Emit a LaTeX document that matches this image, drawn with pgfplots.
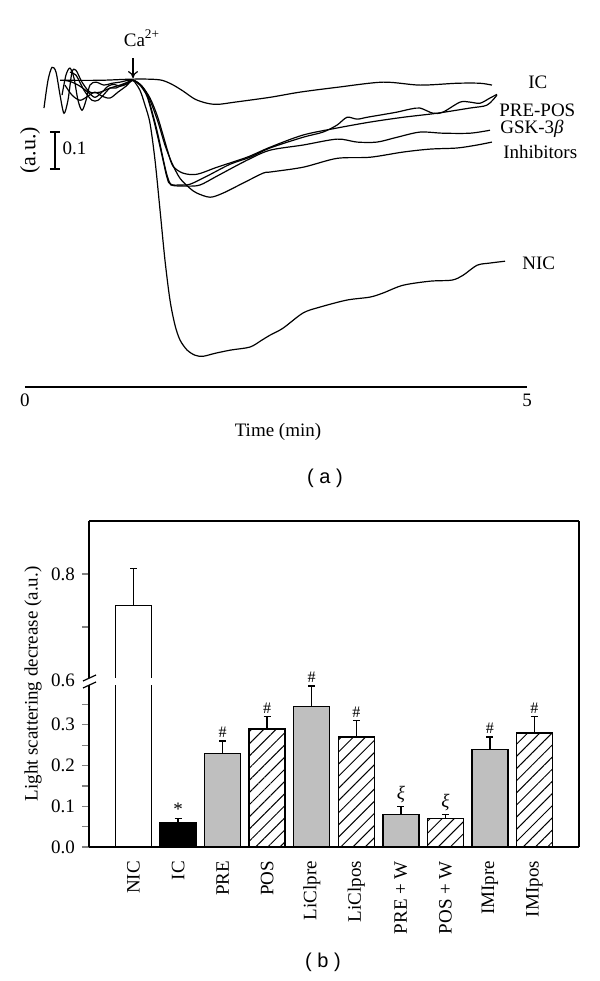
\documentclass[border=0pt]{standalone}
\usepackage{pgfplots}
\pgfplotsset{compat=1.18}
\usepackage{fontspec}
\setmainfont{Liberation Serif}
\newfontfamily\arialfont{Liberation Sans}
\usetikzlibrary{arrows.meta,patterns.meta}
\begin{document}
\begin{tikzpicture}[font=\fontsize{9.5}{11}\selectfont]
\useasboundingbox (0,0) rectangle (300pt,490.5pt);
% ---------------- panel (a) ----------------
\begin{axis}[at={(12.5pt,297pt)}, anchor=south west, scale only axis,
  width=251pt, height=172.4pt, xmin=0, xmax=5, ymin=-0.832, ymax=0.1,
  axis x line*=bottom, axis y line=none, axis line style={-, line width=0.6pt},
  xtick={0,5}, xticklabels={0,5}, major tick length=0pt,
  tick label style={font=\fontsize{9.5}{11}\selectfont},
  clip=false, no marks]
% IC
\addplot[black, line width=0.6pt, smooth, tension=0.5] coordinates {
(0.349,-0.003)(0.747,-0.003)(1.046,0)(1.245,0)(1.365,-0.003)(1.464,-0.014)(1.574,-0.032)(1.693,-0.054)(1.813,-0.065)(1.922,-0.068)(2.092,-0.062)(2.440,-0.049)(2.739,-0.035)(3.108,-0.022)(3.566,-0.008)(3.934,-0.016)(4.303,-0.011)(4.532,-0.011)(4.651,-0.016)};
% NIC
\addplot[black, line width=0.6pt, smooth, tension=0.5] coordinates {
(0.189,-0.078)(0.229,-0.003)(0.269,0.032)(0.309,0.019)(0.349,-0.043)(0.388,-0.092)(0.428,-0.057)(0.468,0.019)(0.508,0.024)(0.568,-0.008)(0.647,-0.035)(0.747,-0.035)(0.847,-0.024)(0.946,-0.016)(1.026,-0.008)(1.076,-0.003)
(1.145,-0.030)(1.195,-0.070)(1.245,-0.119)(1.295,-0.219)(1.345,-0.354)(1.394,-0.489)(1.444,-0.597)(1.494,-0.665)(1.544,-0.705)(1.614,-0.732)(1.693,-0.746)(1.773,-0.749)(1.892,-0.741)(2.052,-0.732)(2.241,-0.724)(2.361,-0.705)(2.440,-0.692)(2.570,-0.673)(2.769,-0.632)(2.938,-0.616)(3.207,-0.597)(3.436,-0.589)(3.566,-0.578)(3.765,-0.557)(4.034,-0.546)(4.253,-0.543)(4.363,-0.530)(4.502,-0.503)(4.631,-0.497)(4.781,-0.492)};
% PRE
\addplot[black, line width=0.6pt, smooth, tension=0.5] coordinates {
(0.369,-0.043)(0.408,0.011)(0.448,0.030)(0.488,0.003)(0.528,-0.057)(0.568,-0.084)(0.608,-0.057)(0.647,-0.016)(0.707,-0.008)(0.787,-0.016)(0.867,-0.011)(0.946,-0.008)(1.026,-0.003)(1.076,-0.003)
(1.145,-0.014)(1.215,-0.043)(1.275,-0.097)(1.325,-0.151)(1.375,-0.214)(1.414,-0.259)(1.454,-0.284)(1.544,-0.286)(1.643,-0.284)(1.813,-0.262)(2.042,-0.230)(2.241,-0.211)(2.440,-0.186)(2.769,-0.157)(2.968,-0.143)(3.108,-0.124)(3.207,-0.103)(3.307,-0.108)(3.406,-0.103)(3.536,-0.097)(3.705,-0.089)(3.835,-0.081)(3.934,-0.078)(4.064,-0.092)(4.163,-0.089)(4.333,-0.062)(4.432,-0.062)(4.532,-0.065)(4.631,-0.051)(4.701,-0.041)};
% POS
\addplot[black, line width=0.6pt, smooth, tension=0.5] coordinates {
(0.448,0.019)(0.508,0.011)(0.588,-0.030)(0.667,-0.057)(0.727,-0.057)(0.787,-0.041)(0.847,-0.024)(0.906,-0.024)(0.966,-0.016)(1.026,-0.008)(1.076,-0.003)
(1.165,-0.019)(1.245,-0.051)(1.315,-0.097)(1.375,-0.151)(1.424,-0.197)(1.474,-0.235)(1.574,-0.254)(1.713,-0.257)(1.912,-0.238)(2.211,-0.211)(2.440,-0.184)(2.769,-0.151)(3.108,-0.132)(3.436,-0.116)(3.765,-0.103)(4.104,-0.092)(4.432,-0.078)(4.602,-0.070)(4.701,-0.043)};
% GSK-3beta
\addplot[black, line width=0.6pt, smooth, tension=0.5] coordinates {
(0.398,-0.003)(0.468,-0.008)(0.548,-0.019)(0.627,-0.035)(0.697,-0.049)(0.767,-0.035)(0.827,-0.019)(0.886,-0.014)(0.946,-0.019)(1.006,-0.014)(1.076,-0.003)
(1.145,-0.016)(1.215,-0.046)(1.275,-0.103)(1.325,-0.159)(1.375,-0.219)(1.414,-0.265)(1.454,-0.286)(1.614,-0.289)(1.743,-0.286)(1.912,-0.262)(2.211,-0.219)(2.440,-0.192)(2.769,-0.178)(3.108,-0.162)(3.307,-0.170)(3.506,-0.170)(3.705,-0.157)(3.934,-0.143)(4.163,-0.146)(4.432,-0.146)(4.631,-0.138)};
% Inhibitors
\addplot[black, line width=0.6pt, smooth, tension=0.5] coordinates {
(0.398,-0.016)(0.468,-0.043)(0.548,-0.057)(0.627,-0.046)(0.697,-0.035)(0.767,-0.046)(0.847,-0.051)(0.926,-0.035)(1.006,-0.019)(1.076,-0.003)
(1.165,-0.019)(1.245,-0.057)(1.325,-0.116)(1.394,-0.178)(1.464,-0.227)(1.544,-0.268)(1.643,-0.295)(1.713,-0.308)(1.843,-0.319)(1.972,-0.308)(2.171,-0.281)(2.371,-0.254)(2.440,-0.251)(2.769,-0.238)(3.108,-0.214)(3.436,-0.211)(3.765,-0.197)(4.034,-0.189)(4.303,-0.186)(4.502,-0.178)(4.651,-0.170)};
% annotations
\draw[line width=0.6pt, -{To[length=3.5pt,width=5pt]}] (axis cs:1.076,0.057) -- (axis cs:1.076,0.003);
\node at (axis cs:1.165,0.110) {Ca\textsuperscript{2+}};
\draw[line width=0.6pt] (axis cs:0.249,-0.143) -- (axis cs:0.349,-0.143)
  (axis cs:0.299,-0.143) -- (axis cs:0.299,-0.243)
  (axis cs:0.249,-0.243) -- (axis cs:0.349,-0.243);
\node[anchor=west, inner sep=0pt] at (axis cs:0.37,-0.188) {0.1};
\node[rotate=90] at (axis cs:0.05,-0.192) {\fontsize{11}{12}\selectfont (a.u.)};
\node[anchor=west, inner sep=0pt] at (axis cs:5.01,-0.008) {IC};
\node[anchor=west, inner sep=0pt] at (axis cs:4.72,-0.084) {PRE-POS};
\node[anchor=west, inner sep=0pt] at (axis cs:4.73,-0.135) {GSK-3\textit{β}};
\node[anchor=west, inner sep=0pt] at (axis cs:4.76,-0.197) {Inhibitors};
\node[anchor=west, inner sep=0pt] at (axis cs:4.95,-0.497) {NIC};
\end{axis}
\node at (139pt,274.5pt) {Time (min)};
\node at (162.5pt,251.5pt) {\arialfont\fontsize{10}{12}\selectfont ( a )};
% ---------------- panel (b) lower ----------------
\begin{axis}[at={(44.5pt,67pt)}, anchor=south west, scale only axis,
  width=245pt, height=83.5pt, xmin=-1, xmax=10, ymin=0, ymax=0.41,
  axis x line*=bottom, axis y line*=left, axis line style={-, line width=0.7pt},
  xtick={0,...,9},
  xticklabels={NIC,IC,PRE,POS,LiClpre,LiClpos,PRE + W,POS + W,IMIpre,IMIpos},
  xticklabel style={rotate=90, anchor=east},
  x tick style={draw=none},
  ytick={0,0.1,0.2,0.3}, yticklabels={0.0,0.1,0.2,0.3},
  minor ytick={0.05,0.15,0.25,0.35},
  tick align=outside, major tick length=3.5pt, minor tick length=3.5pt,
  y tick style={line width=0.6pt},
  tick label style={font=\fontsize{9.5}{11}\selectfont},
  ybar, bar width=18pt, bar shift=0pt, clip mode=individual,
  error bars/y dir=plus, error bars/y explicit,
  error bars/error bar style={line width=0.7pt, black},
  error bars/error mark options={rotate=90, mark size=1.75pt, line width=0.7pt, black}]
\addplot[fill=white, draw=black, line width=0.7pt] coordinates {(0,0.74)};
\addplot[fill=black, draw=black, line width=0.7pt] coordinates {(1,0.06) +- (0,0.01)};
\addplot[fill=black!25, draw=black, line width=0.7pt] coordinates {
(2,0.23) +- (0,0.03) (4,0.345) +- (0,0.05) (6,0.08) +- (0,0.02) (8,0.24) +- (0,0.03)};
\addplot[pattern={Lines[angle=45,distance=4.3pt,line width=0.5pt]}, pattern color=black, draw=black, line width=0.7pt] coordinates {
(3,0.29) +- (0,0.03) (5,0.27) +- (0,0.04) (7,0.07) +- (0,0.01) (9,0.28) +- (0,0.04)};
\node[anchor=south, inner sep=1.5pt] at (axis cs:1,0.07) {*};
\node[anchor=south, inner sep=1.5pt, font=\fontsize{8}{9}\selectfont] at (axis cs:2,0.26) {\#};
\node[anchor=south, inner sep=1.5pt, font=\fontsize{8}{9}\selectfont] at (axis cs:3,0.32) {\#};
\node[anchor=south, inner sep=1.5pt, font=\fontsize{8}{9}\selectfont] at (axis cs:4,0.395) {\#};
\node[anchor=south, inner sep=1.5pt, font=\fontsize{8}{9}\selectfont] at (axis cs:5,0.31) {\#};
\node[anchor=south, inner sep=1.5pt] at (axis cs:6,0.10) {\textit{ξ}};
\node[anchor=south, inner sep=1.5pt] at (axis cs:7,0.08) {\textit{ξ}};
\node[anchor=south, inner sep=1.5pt, font=\fontsize{8}{9}\selectfont] at (axis cs:8,0.27) {\#};
\node[anchor=south, inner sep=1.5pt, font=\fontsize{8}{9}\selectfont] at (axis cs:9,0.32) {\#};
\end{axis}
% ---------------- panel (b) upper ----------------
\begin{axis}[at={(44.5pt,150.5pt)}, anchor=south west, scale only axis,
  width=245pt, height=79.5pt, xmin=-1, xmax=10, ymin=0.6, ymax=0.9,
  axis x line*=top, axis y line*=left, axis line style={-, line width=0.7pt},
  xtick=\empty,
  ytick={0.6,0.8}, yticklabels={0.6,0.8}, minor ytick={0.7},
  tick align=outside, major tick length=3.5pt, minor tick length=3.5pt,
  y tick style={line width=0.6pt},
  tick label style={font=\fontsize{9.5}{11}\selectfont},
  ybar, bar width=18pt, bar shift=0pt, clip mode=individual,
  error bars/y dir=plus, error bars/y explicit,
  error bars/error bar style={line width=0.7pt, black},
  error bars/error mark options={rotate=90, mark size=1.75pt, line width=0.7pt, black}]
\addplot[fill=white, draw=black, line width=0.7pt] coordinates {(0,0.74) +- (0,0.07)};
\end{axis}
% right frame line
\draw[line width=0.7pt] (289.5pt,67pt) -- (289.5pt,230pt);
% axis break
\fill[white] (56.5pt,148pt) rectangle (77.5pt,151.6pt);
\fill[white] (40pt,148pt) rectangle (47pt,151.6pt);
\draw[line width=0.6pt] (41.5pt,146.5pt) -- (48pt,149.5pt);
\draw[line width=0.6pt] (41.5pt,150pt) -- (48pt,153pt);
\node[rotate=90] at (16.5pt,148.5pt) {Light scattering decrease (a.u.)};
\node at (161.5pt,9.5pt) {\arialfont\fontsize{10}{12}\selectfont ( b )};
\end{tikzpicture}
\end{document}
